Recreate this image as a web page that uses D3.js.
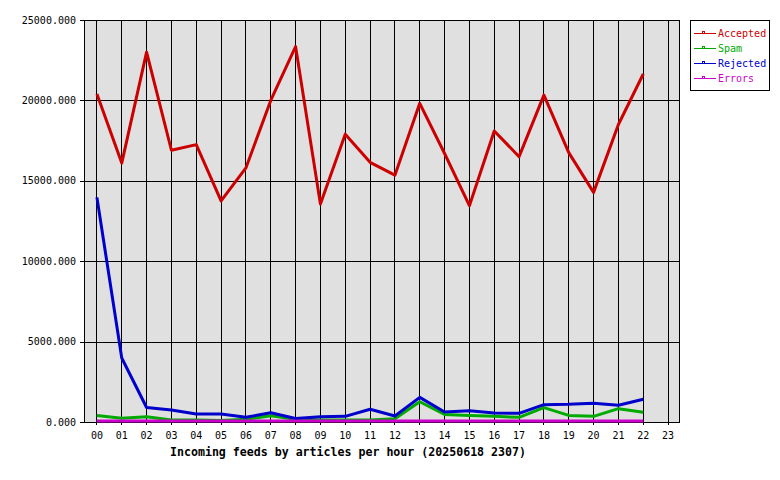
<!DOCTYPE html>
<html>
<head>
<meta charset="utf-8">
<script src="https://cdn.jsdelivr.net/npm/d3@7"></script>
<style>
  html, body { margin: 0; padding: 0; background: #fff; }
  svg { display: block; }
</style>
</head>
<body>
<svg id="chart" width="780" height="480"></svg>
<script>
const hours = ["00","01","02","03","04","05","06","07","08","09","10","11","12","13","14","15","16","17","18","19","20","21","22","23"];
const accepted = [20400, 16100, 23000, 16900, 17250, 13750, 15800, 20000, 23350, 13550, 17900, 16150, 15350, 19820, 16700, 13450, 18100, 16500, 20330, 16750, 14280, 18500, 21640];
const spam     = [410, 230, 330, 120, 120, 100, 170, 390, 170, 120, 120, 120, 200, 1260, 470, 410, 350, 290, 890, 410, 350, 830, 600];
const rejected = [13970, 3980, 900, 750, 500, 500, 290, 580, 220, 330, 350, 790, 370, 1530, 620, 700, 560, 540, 1080, 1100, 1160, 1040, 1410];
const errors   = [60, 60, 60, 60, 60, 60, 60, 60, 60, 60, 60, 60, 60, 60, 60, 60, 60, 60, 60, 60, 60, 60, 60];
const yTicks = [0, 5000, 10000, 15000, 20000, 25000];
const seriesNames = ["Accepted", "Spam", "Rejected", "Errors"];
const seriesColors = ["#cc0000", "#00aa00", "#0000cc", "#cc00cc"];
const chartTitle = "Incoming feeds by articles per hour (20250618 2307)";

const seriesData = [accepted, spam, rejected, errors];

(function () {
const svg = d3.select("#chart");
const pL = 84, pR = 680, pT = 20, pB = 422;
const mono = "'DejaVu Sans Mono', 'Liberation Mono', monospace";

const x = d3.scaleLinear().domain([-0.5, 23.5]).range([pL, pR]);
const y = d3.scaleLinear().domain([0, 25000]).range([pB, pT]);

// plot background
svg.append("rect").attr("x", pL).attr("y", pT)
  .attr("width", pR - pL).attr("height", pB - pT)
  .attr("fill", "#e0e0e0");

// vertical grid lines (extend below as ticks)
svg.append("g").selectAll("line").data(hours).join("line")
  .attr("x1", (d, i) => Math.round(x(i)) + 0.5)
  .attr("x2", (d, i) => Math.round(x(i)) + 0.5)
  .attr("y1", pT).attr("y2", pB + 3)
  .attr("stroke", "#000").attr("stroke-width", 1)
  .attr("shape-rendering", "crispEdges");

// horizontal grid lines (extend left as ticks)
svg.append("g").selectAll("line").data(yTicks).join("line")
  .attr("x1", pL - 4).attr("x2", pR)
  .attr("y1", d => Math.round(y(d)) + 0.5)
  .attr("y2", d => Math.round(y(d)) + 0.5)
  .attr("stroke", "#000").attr("stroke-width", 1)
  .attr("shape-rendering", "crispEdges");

// border
svg.append("rect").attr("x", pL + 0.5).attr("y", pT + 0.5)
  .attr("width", pR - pL - 1).attr("height", pB - pT)
  .attr("fill", "none").attr("stroke", "#000")
  .attr("shape-rendering", "crispEdges");

// y tick labels
svg.append("g").selectAll("text").data(yTicks).join("text")
  .attr("x", 76).attr("y", d => y(d))
  .attr("dy", "0.35em")
  .attr("text-anchor", "end")
  .attr("font-family", mono).attr("font-size", "10px")
  .attr("fill", "#000")
  .text(d => d3.format(".3f")(d));

// x tick labels
svg.append("g").selectAll("text").data(hours).join("text")
  .attr("x", (d, i) => x(i) + 0.5).attr("y", 435)
  .attr("dy", "0.35em")
  .attr("text-anchor", "middle")
  .attr("font-family", mono).attr("font-size", "10px")
  .attr("fill", "#000")
  .text(d => d);

// series lines
const line = d3.line().x((d, i) => x(i) + 0.5).y(d => y(d));
seriesData.forEach((vals, k) => {
  svg.append("path").datum(vals)
    .attr("d", line)
    .attr("fill", "none")
    .attr("stroke", seriesColors[k])
    .attr("stroke-width", 3)
    .attr("stroke-linejoin", "round");
});

// title
svg.append("text").attr("x", 348).attr("y", 452)
  .attr("dy", "0.35em").attr("text-anchor", "middle")
  .attr("font-family", mono).attr("font-size", "11.6px").attr("font-weight", "bold")
  .attr("fill", "#000")
  .text(chartTitle);

// legend
const lg = svg.append("g");
lg.append("rect").attr("x", 690.5).attr("y", 20.5)
  .attr("width", 79).attr("height", 70)
  .attr("fill", "#fff").attr("stroke", "#000")
  .attr("shape-rendering", "crispEdges");
seriesNames.forEach((name, k) => {
  const cy = 33 + k * 15;
  lg.append("line").attr("x1", 694).attr("x2", 716)
    .attr("y1", cy + 0.5).attr("y2", cy + 0.5)
    .attr("stroke", seriesColors[k]).attr("stroke-width", 1)
    .attr("shape-rendering", "crispEdges");
  lg.append("rect").attr("x", 702.5).attr("y", cy - 1.5)
    .attr("width", 2).attr("height", 2)
    .attr("fill", "#fff").attr("stroke", seriesColors[k])
    .attr("shape-rendering", "crispEdges");
  lg.append("text").attr("x", 718).attr("y", cy)
    .attr("dy", "0.35em")
    .attr("font-family", mono).attr("font-size", "10px")
    .attr("fill", seriesColors[k])
    .text(name);
});
})();
</script>
</body>
</html>
